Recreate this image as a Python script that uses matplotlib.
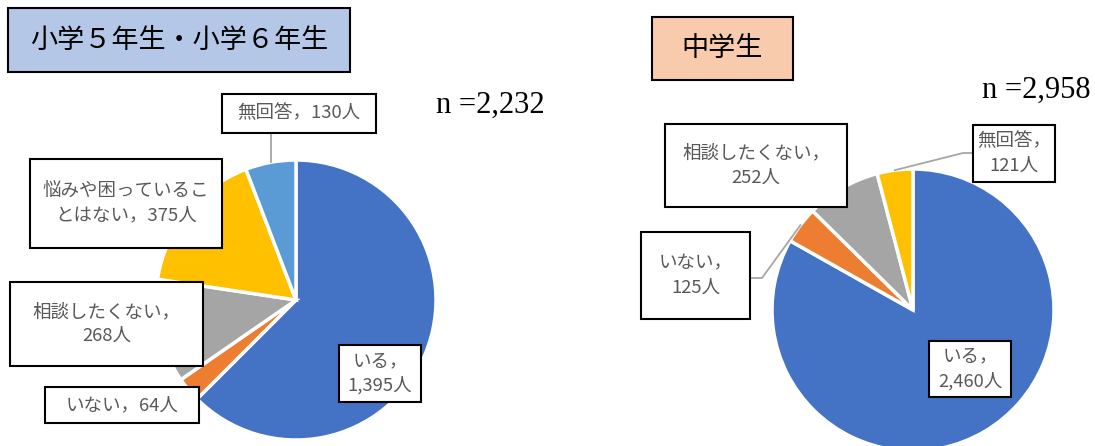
import matplotlib
matplotlib.use("Agg")
import matplotlib.pyplot as plt
from matplotlib.patches import Rectangle
import numpy as np

plt.rcParams['font.family'] = ['Noto Sans CJK JP', 'DejaVu Sans']

# 小学5・6年生
elem_labels = ["いる，\n1,395人", "いない，64人", "相談したくない，\n268人",
               "悩みや困っているこ\nとはない，375人", "無回答，130人"]
elem_values = [1395, 64, 268, 375, 130]
elem_colors = ["#4472C4", "#ED7D31", "#A5A5A5", "#FFC000", "#5B9BD5"]
elem_n = "n =2,232"

# 中学生
mid_labels = ["いる，\n2,460人", "いない，\n125人", "相談したくない，\n252人", "無回答，\n121人"]
mid_values = [2460, 125, 252, 121]
mid_colors = ["#4472C4", "#ED7D31", "#A5A5A5", "#FFC000"]
mid_n = "n =2,958"

W, H = 1095, 446
fig = plt.figure(figsize=(W / 100, H / 100), dpi=100)
ax = fig.add_axes([0, 0, 1, 1])


def Y(y):
    return H - y


def box(x0, y0, x1, y1, text, fc="white", color="#595959", size=13.3, lw=1.5, ls=1.45):
    ax.add_patch(Rectangle((x0, Y(y1)), x1 - x0, y1 - y0, fc=fc, ec="black", lw=lw, zorder=5))
    ax.text((x0 + x1) / 2, Y((y0 + y1) / 2), text, ha="center", va="center",
            color=color, fontsize=size, linespacing=ls, zorder=6)


def edge_point(w, cx, cy, r):
    a = np.deg2rad((w.theta1 + w.theta2) / 2)
    return cx + r * np.cos(a), cy + r * np.sin(a)


# pies
cx1, cy1, r1 = 296, Y(300), 140
w1, _ = ax.pie(elem_values, colors=elem_colors, startangle=90, counterclock=False,
               center=(cx1, cy1), radius=r1, frame=True,
               wedgeprops=dict(edgecolor="white", linewidth=2.5))
cx2, cy2, r2 = 913, Y(310), 141
w2, _ = ax.pie(mid_values, colors=mid_colors, startangle=90, counterclock=False,
               center=(cx2, cy2), radius=r2, frame=True,
               wedgeprops=dict(edgecolor="white", linewidth=2.5))
ax.set_xlim(0, W)
ax.set_ylim(0, H)
ax.set_aspect("equal")
ax.axis("off")

# titles
box(8, 8, 350, 72, "小学５年生・小学６年生", fc="#B4C7E7", color="black", size=19.5)
box(652, 17, 793, 80, "中学生", fc="#F8CBAD", color="black", size=19.5)
ax.text(436, Y(113), elem_n, family="Liberation Serif", fontsize=22, ha="left", va="baseline")
ax.text(982, Y(98), mid_n, family="Liberation Serif", fontsize=22, ha="left", va="baseline")

# leader lines
lc = "#A6A6A6"
px, py = edge_point(w1[4], cx1, cy1, r1)
ax.plot([px, px], [py, Y(133)], color=lc, lw=1.3, zorder=3)
px, py = edge_point(w2[3], cx2, cy2, r2)
ax.plot([px, 963, 973], [py, Y(153), Y(153)], color=lc, lw=1.3, zorder=3)
px, py = edge_point(w2[1], cx2, cy2, r2)
ax.plot([px, 762, 750], [py, Y(278), Y(278)], color=lc, lw=1.3, zorder=3)

# label boxes, left
box(339, 345, 421, 402, elem_labels[0])
box(45, 387, 199, 423, elem_labels[1])
box(10, 282, 203, 366, elem_labels[2])
box(30, 159, 222, 248, elem_labels[3])
box(222, 94, 376, 133, elem_labels[4])

# label boxes, right
box(929, 341, 1011, 397, mid_labels[0])
box(641, 232, 750, 319, mid_labels[1])
box(665, 124, 847, 207, mid_labels[2])
box(973, 125, 1055, 182, mid_labels[3])

fig.savefig("out.png", dpi=100)
